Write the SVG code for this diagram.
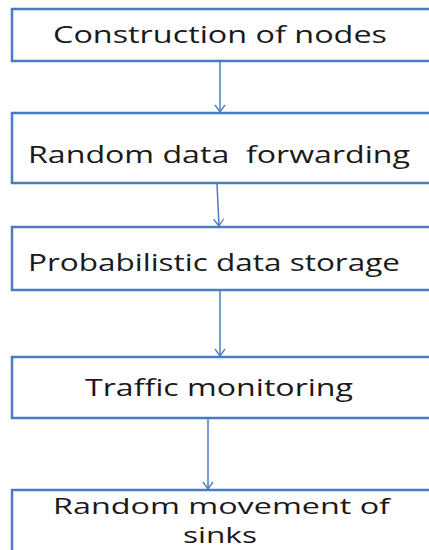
<svg xmlns="http://www.w3.org/2000/svg" width="429" height="550" viewBox="0 0 429 550">
<defs>
<style>
.box{fill:#fff;stroke:#4a7cc4;stroke-width:2.5}
.t{font-family:"Open Sans","Liberation Sans",Arial,sans-serif;font-size:24px;fill:#1a1a1a}
.t2{font-size:21px}
.c{stroke:#4a7cc4;stroke-width:1.5;fill:none}
</style>
<marker id="ah" markerWidth="10" markerHeight="12" refX="9" refY="6" orient="auto" markerUnits="userSpaceOnUse" viewBox="0 0 10 12">
<path d="M2,1 L9,6 L2,11" fill="none" stroke="#4a7cc4" stroke-width="1.3"/>
</marker>
</defs>
<rect width="429" height="550" fill="#fff"/>
<g id="connectors">
<path class="c" d="M220,62 V112" marker-end="url(#ah)"/>
<path class="c" d="M217,184 L219,226" marker-end="url(#ah)"/>
<path class="c" d="M220,291 V356" marker-end="url(#ah)"/>
<path class="c" d="M208,419 V489" marker-end="url(#ah)"/>
</g>
<g id="n1">
<rect class="box" x="12" y="9" width="430" height="52"/>
<text class="t" x="53" y="43" textLength="334" lengthAdjust="spacingAndGlyphs">Construction of nodes</text>
</g>
<g id="n2">
<rect class="box" x="12" y="113" width="430" height="70"/>
<text class="t" x="28" y="163" textLength="382" lengthAdjust="spacingAndGlyphs" xml:space="preserve">Random data  forwarding</text>
</g>
<g id="n3">
<rect class="box" x="12" y="227" width="430" height="63"/>
<text class="t" x="28" y="271" textLength="372" lengthAdjust="spacingAndGlyphs">Probabilistic data storage</text>
</g>
<g id="n4">
<rect class="box" x="12" y="357" width="430" height="61"/>
<text class="t" x="85" y="396" textLength="268" lengthAdjust="spacingAndGlyphs">Traffic monitoring</text>
</g>
<g id="n5">
<rect class="box" x="12" y="490" width="430" height="80"/>
<text class="t t2"><tspan x="53" y="514" textLength="337" lengthAdjust="spacingAndGlyphs">Random movement of</tspan><tspan x="183" y="543" textLength="74" lengthAdjust="spacingAndGlyphs">sinks</tspan></text>
</g>
</svg>
